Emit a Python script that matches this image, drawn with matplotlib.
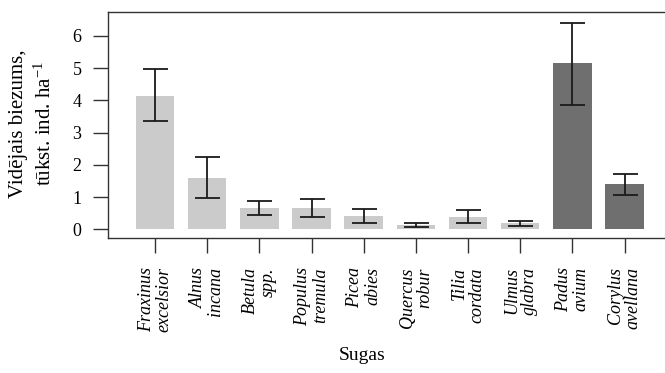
import matplotlib
matplotlib.use("Agg")
import matplotlib.pyplot as plt
import numpy as np

species = ["Fraxinus\nexcelsior", "Alnus\nincana", "Betula\nspp.", "Populus\ntremula",
           "Picea\nabies", "Quercus\nrobur", "Tilia\ncordata", "Ulmus\nglabra",
           "Padus\navium", "Corylus\navellana"]
means = [4.15, 1.59, 0.65, 0.65, 0.40, 0.12, 0.38, 0.18, 5.15, 1.39]
err_low = [3.36, 0.96, 0.43, 0.39, 0.20, 0.06, 0.18, 0.09, 3.87, 1.05]
err_high = [4.96, 2.25, 0.89, 0.93, 0.64, 0.21, 0.61, 0.26, 6.41, 1.73]
groups = ["light"] * 8 + ["dark"] * 2
yticks = [0, 1, 2, 3, 4, 5, 6]

plt.rcParams['font.family'] = ['Liberation Serif', 'DejaVu Serif']
plt.rcParams['mathtext.fontset'] = 'custom'
plt.rcParams['mathtext.rm'] = 'Liberation Serif'
plt.rcParams['mathtext.it'] = 'Liberation Serif:italic'

W, H = 665, 373
fig = plt.figure(figsize=(W / 100, H / 100), dpi=100)
left, top, bottom, right = 108, 12, 238, 665
spacing = 52.17
x0 = 155
span = (right - left) / spacing
xl = -(x0 - left) / spacing
xr = xl + span
ax = fig.add_axes([left / W, (H - bottom) / H, (right - left) / W, (bottom - top) / H])

x = np.arange(len(means))
cols = {"light": "#cbcbcb", "dark": "#6f6f6f"}
colors = [cols[g] for g in groups]
m = np.array(means)
yerr = [m - np.array(err_low), np.array(err_high) - m]
ax.bar(x, m, width=0.74, color=colors, edgecolor='none', zorder=2)
ax.errorbar(x, m, yerr=yerr, fmt='none', ecolor='#1a1a1a', elinewidth=1.3,
            capsize=9, capthick=1.3, zorder=3)

ax.set_xlim(xl, xr)
ax.set_ylim(-0.27, 6.74)
ax.set_yticks(yticks)
ax.set_yticklabels([str(t) for t in yticks], fontsize=13)
ax.set_xticks(x)
ax.set_xticklabels(species, rotation=90, ha='right', va='center',
                   rotation_mode='anchor', style='italic', fontsize=13,
                   multialignment='right', linespacing=1.05)
ax.tick_params(axis='both', length=11, width=1, color='#333333')
ax.tick_params(axis='x', pad=10)
ax.tick_params(axis='y', pad=8)
for s in ax.spines.values():
    s.set_color('#333333')
    s.set_linewidth(1.0)
ax.spines['right'].set_visible(False)

fig.text(19 / W, (H - 124) / H, "Vidējais biezums,", rotation=90, ha='center',
         va='center', fontsize=15)
fig.text(45 / W, (H - 124) / H, "tūkst. ind. ha$^{-1}$", rotation=90, ha='center',
         va='center', fontsize=15)
fig.text(362 / W, (H - 356) / H, "Sugas", ha='center', va='center', fontsize=14)

fig.savefig("out.png", dpi=100)
